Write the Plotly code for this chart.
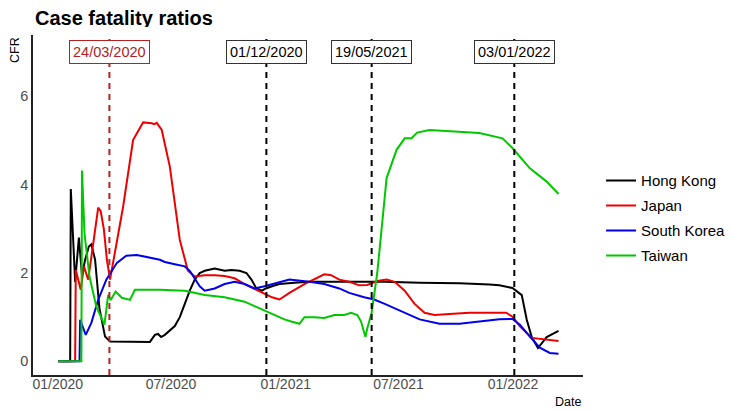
import plotly.graph_objects as go

# Fechas y valores (CFR en %)
hk_dates = ['2020-01-02', '2020-01-21', '2020-01-22', '2020-01-29', '2020-02-04', '2020-02-09', '2020-02-14',
            '2020-02-20', '2020-02-24', '2020-03-01', '2020-03-08', '2020-03-17', '2020-03-25', '2020-05-28',
            '2020-06-05', '2020-06-10', '2020-06-15', '2020-06-21', '2020-07-07', '2020-07-15', '2020-07-23',
            '2020-07-31', '2020-08-08', '2020-08-16', '2020-08-24', '2020-09-09', '2020-09-25', '2020-10-06',
            '2020-10-19', '2020-10-30', '2020-11-07', '2020-11-15', '2020-11-24', '2020-11-30', '2020-12-10',
            '2020-12-22', '2021-01-15', '2021-02-08', '2021-04-13', '2021-06-09', '2021-08-04', '2021-10-07',
            '2021-11-24', '2021-12-10', '2021-12-31', '2022-01-15', '2022-01-23', '2022-01-31', '2022-02-10',
            '2022-02-24', '2022-03-15']
hk_cfr = [0, 0, 3.9, 1.8, 2.8, 1.95, 2.3,
          2.6, 2.65, 2.3, 1.2, 0.56, 0.45, 0.44,
          0.6, 0.62, 0.55, 0.6, 0.8, 1.0, 1.3,
          1.6, 1.85, 2.0, 2.05, 2.1, 2.05, 2.07,
          2.05, 2.0, 1.85, 1.65, 1.6, 1.65, 1.7,
          1.75, 1.78, 1.8, 1.8, 1.8, 1.78, 1.77,
          1.74, 1.72, 1.66, 1.5, 0.94, 0.55, 0.3,
          0.55, 0.69]

jp_dates = ['2020-01-02', '2020-01-29', '2020-01-30', '2020-02-07', '2020-02-12', '2020-02-19', '2020-03-06',
            '2020-03-10', '2020-03-15', '2020-03-20', '2020-03-25', '2020-04-05', '2020-04-15', '2020-05-01',
            '2020-05-17', '2020-05-31', '2020-06-04', '2020-06-08', '2020-06-16', '2020-06-29', '2020-07-15',
            '2020-07-28', '2020-08-08', '2020-08-24', '2020-09-09', '2020-09-25', '2020-10-11', '2020-10-27',
            '2020-11-17', '2020-11-24', '2020-12-10', '2020-12-22', '2021-01-07', '2021-01-31', '2021-02-21',
            '2021-03-04', '2021-03-15', '2021-03-28', '2021-04-13', '2021-04-29', '2021-05-12', '2021-05-28',
            '2021-06-12', '2021-06-25', '2021-07-11', '2021-07-27', '2021-08-12', '2021-08-28', '2021-09-21',
            '2021-10-23', '2021-11-24', '2021-12-21', '2021-12-31', '2022-01-12', '2022-01-31', '2022-02-24',
            '2022-03-15']
jp_cfr = [0, 0, 2.07, 1.62, 2.15, 1.85, 3.48,
          3.4, 3.0, 2.3, 1.85, 2.75, 3.5, 5.01,
          5.41, 5.39, 5.37, 5.4, 5.24, 4.41, 2.75,
          2.05, 1.92, 1.95, 1.95, 1.93, 1.88, 1.75,
          1.6, 1.55, 1.45, 1.4, 1.55, 1.75, 1.9,
          1.97, 1.95, 1.85, 1.8, 1.72, 1.73, 1.82,
          1.85, 1.8, 1.6, 1.3, 1.1, 1.05, 1.07,
          1.1, 1.1, 1.1, 1.01, 0.79, 0.53, 0.49,
          0.46]

kr_dates = ['2020-01-02', '2020-02-05', '2020-02-06', '2020-02-15', '2020-02-24', '2020-03-06', '2020-03-19',
            '2020-04-05', '2020-04-20', '2020-05-07', '2020-06-13', '2020-06-21', '2020-07-07', '2020-07-23',
            '2020-07-31', '2020-08-16', '2020-08-24', '2020-09-09', '2020-09-25', '2020-10-11', '2020-10-27',
            '2020-11-12', '2020-11-28', '2020-12-22', '2021-01-07', '2021-02-08', '2021-03-04', '2021-03-28',
            '2021-04-13', '2021-05-07', '2021-05-23', '2021-06-09', '2021-07-03', '2021-08-04', '2021-09-05',
            '2021-10-07', '2021-11-08', '2021-12-10', '2021-12-31', '2022-01-12', '2022-01-28', '2022-02-13',
            '2022-03-01', '2022-03-15']
kr_cfr = [0, 0, 0.94, 0.6, 0.87, 1.39, 1.85,
          2.23, 2.39, 2.41, 2.3, 2.25, 2.2, 2.15,
          2.05, 1.7, 1.6, 1.65, 1.75, 1.8, 1.75,
          1.65, 1.7, 1.8, 1.85, 1.8, 1.75, 1.65,
          1.55, 1.45, 1.4, 1.3, 1.15, 0.95, 0.85,
          0.85, 0.9, 0.95, 0.96, 0.83, 0.56, 0.31,
          0.19, 0.17]

tw_dates = ['2020-01-02', '2020-02-08', '2020-02-09', '2020-02-13', '2020-02-21', '2020-03-03', '2020-03-16',
            '2020-03-22', '2020-03-26', '2020-04-03', '2020-04-13', '2020-04-26', '2020-05-04', '2020-06-13',
            '2020-07-23', '2020-08-08', '2020-08-24', '2020-09-25', '2020-10-11', '2020-10-27', '2020-11-12',
            '2020-11-28', '2020-12-14', '2020-12-30', '2021-01-10', '2021-01-23', '2021-01-31', '2021-02-16',
            '2021-03-04', '2021-03-20', '2021-04-05', '2021-04-16', '2021-04-26', '2021-05-02', '2021-05-09',
            '2021-05-12', '2021-05-19', '2021-05-28', '2021-06-04', '2021-06-12', '2021-06-28', '2021-07-11',
            '2021-07-22', '2021-07-31', '2021-08-20', '2021-10-02', '2021-11-08', '2021-12-15', '2021-12-31',
            '2022-01-28', '2022-02-24', '2022-03-15']
tw_cfr = [0, 0, 4.32, 2.9, 1.92, 1.24, 0.83,
          1.5, 1.39, 1.58, 1.44, 1.39, 1.62, 1.62,
          1.6, 1.55, 1.5, 1.45, 1.4, 1.35, 1.25,
          1.15, 1.05, 0.95, 0.9, 0.85, 1.0, 1.0,
          0.98, 1.05, 1.05, 1.1, 1.05, 0.9, 0.55,
          0.75, 1.1, 2.0, 3.0, 4.15, 4.79, 5.05,
          5.05, 5.18, 5.24, 5.2, 5.17, 5.05, 4.83,
          4.37, 4.07, 3.79]

event_dates = ['2020-03-24', '2020-12-01', '2021-05-19', '2022-01-03']
event_labels = ['24/03/2020', '01/12/2020', '19/05/2021', '03/01/2022']
event_colors = ['#B22222', 'black', 'black', 'black']

tick_dates = ['2020-01-01', '2020-07-01', '2021-01-01', '2021-07-01', '2022-01-01']
y_ticks = [0, 2, 4, 6]

FONT = 'Liberation Sans, Arial, sans-serif'

fig = go.Figure()
series = [('Hong Kong', hk_dates, hk_cfr, 'black'),
          ('Japan', jp_dates, jp_cfr, '#EE0000'),
          ('South Korea', kr_dates, kr_cfr, '#0000EE'),
          ('Taiwan', tw_dates, tw_cfr, '#00C800')]
for name, d, v, c in series:
    fig.add_trace(go.Scatter(x=d, y=v, name=name, mode='lines', legendgroup=name,
                             line=dict(color=c, width=2)))

# lineas verticales y etiquetas
for d, lab, c in zip(event_dates, event_labels, event_colors):
    fig.add_shape(type='line', x0=d, x1=d, xref='x', y0=0, y1=1, yref='paper',
                  line=dict(color=c, width=2, dash='6px,5px'), layer='above')
    fig.add_annotation(x=d, y=7, xref='x', yref='y', text=lab, showarrow=False,
                       font=dict(family=FONT, size=14.5, color=c),
                       bgcolor='white', bordercolor=c if c != 'black' else '#333333',
                       borderwidth=1, borderpad=3)

fig.add_annotation(text='Case fatality ratios', xref='paper', yref='paper', x=0, y=1, yshift=17,
                   xanchor='left', yanchor='middle', height=18, showarrow=False,
                   font=dict(family=FONT, size=20, color='black', weight='bold'))
fig.add_annotation(text='CFR', xref='paper', yref='paper', x=0, xshift=-18, y=0.956, textangle=-90,
                   xanchor='center', yanchor='middle', showarrow=False,
                   font=dict(family=FONT, size=12.5, color='black'))
fig.add_annotation(text='Date', xref='paper', yref='paper', x=1, y=0, yshift=-18,
                   xanchor='right', yanchor='top', showarrow=False,
                   font=dict(family=FONT, size=12.5, color='black'))

fig.update_xaxes(range=['2019-11-22 08:00', '2022-04-23 07:00'], tickvals=tick_dates, tickformat='%m/%Y',
                 showgrid=False, zeroline=False, showline=True, linecolor='#222222', linewidth=1.5,
                 ticks='', ticklabelstandoff=-5, automargin=False,
                 tickfont=dict(family=FONT, size=14, color='#4D4D4D'))
fig.update_yaxes(range=[-0.31, 7.39], tickvals=y_ticks, showgrid=False, zeroline=False,
                 showline=True, linecolor='#222222', linewidth=1.5, ticks='', automargin=False,
                 tickfont=dict(family=FONT, size=14.5, color='#4D4D4D'))
# la pagina tiene 8px de margen en el body, se compensa aqui
fig.update_layout(width=725, height=403, margin=dict(l=25, r=150, t=27, b=36, autoexpand=False),
                  plot_bgcolor='white', paper_bgcolor='white', font=dict(family=FONT),
                  legend=dict(xref='container', yref='container', x=0.818, xanchor='left',
                              y=0.478, yanchor='middle', tracegroupgap=2.5,
                              font=dict(family=FONT, size=15, color='black'), bgcolor='rgba(0,0,0,0)'),
                  showlegend=True)

fig.write_html("out.html")
